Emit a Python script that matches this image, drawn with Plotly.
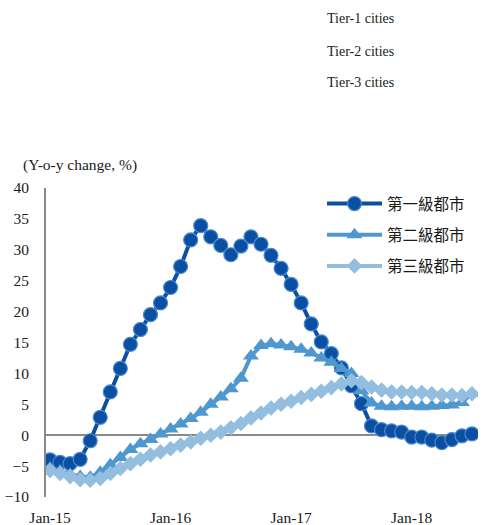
import plotly.graph_objects as go

# Monthly y-o-y change in new home prices, Jan-15 .. Jul-18
months = list(range(43))
tick_positions = [0, 12, 24, 36]
tick_labels = ["Jan-15", "Jan-16", "Jan-17", "Jan-18"]

tier1 = [-4.0, -4.4, -4.6, -3.9, -0.9, 2.9, 7.0, 10.8, 14.7, 17.1, 19.5, 21.4,
         23.9, 27.3, 31.6, 33.9, 32.1, 30.7, 29.2, 30.6, 32.1, 30.9, 29.1, 27.0,
         24.4, 21.4, 18.0, 15.1, 13.2, 10.9, 8.0, 5.1, 1.5, 0.9, 0.7, 0.5,
         -0.3, -0.3, -0.8, -1.2, -0.7, -0.1, 0.2]
tier2 = [-5.3, -5.8, -6.3, -6.7, -6.8, -6.0, -4.8, -3.6, -2.3, -1.4, -0.7, 0.2,
         1.0, 1.8, 2.7, 3.7, 5.0, 6.2, 7.5, 9.2, 12.8, 14.5, 14.8, 14.6,
         14.3, 13.9, 13.3, 12.5, 11.8, 10.8, 10.0, 7.2, 5.2, 4.7, 4.6, 4.7,
         4.7, 4.6, 4.7, 4.8, 4.9, 5.3, 6.8]
tier3 = [-5.7, -6.2, -6.7, -7.2, -7.3, -7.0, -6.2, -5.4, -4.6, -3.9, -3.2, -2.7,
         -2.2, -1.6, -1.1, -0.5, 0.0, 0.5, 1.2, 1.9, 2.8, 3.6, 4.4, 5.0,
         5.5, 6.1, 6.6, 7.1, 7.7, 8.3, 8.8, 8.5, 7.8, 7.3, 7.0, 7.0,
         6.9, 6.9, 6.7, 6.5, 6.5, 6.4, 6.7]

names = ["第一級都市", "第二級都市", "第三級都市"]
english_names = ["Tier-1 cities", "Tier-2 cities", "Tier-3 cities"]

SERIF = "Liberation Serif, Times New Roman, serif"
CJK = "Noto Sans CJK TC, Noto Sans CJK JP, sans-serif"
AXIS_GREY = "#8a8a8a"

fig = go.Figure()

fig.add_trace(go.Scatter(
    x=months, y=tier1, name=names[0], mode="lines+markers", legendgroup="t1",
    line=dict(color="#0b4fa2", width=4),
    marker=dict(symbol="circle", size=14, color="#0b4fa2",
                line=dict(color="#4a89d2", width=1.2)),
))
fig.add_trace(go.Scatter(
    x=months, y=tier2, name=names[1], mode="lines+markers", legendgroup="t2",
    line=dict(color="#4f97cf", width=4),
    marker=dict(symbol="triangle-up", size=14, color="#4f97cf",
                line=dict(color="#4f97cf", width=0)),
))
fig.add_trace(go.Scatter(
    x=months, y=tier3, name=names[2], mode="lines+markers", legendgroup="t3",
    line=dict(color="#93bedf", width=4),
    marker=dict(symbol="diamond", size=12, color="#93bedf",
                line=dict(color="#93bedf", width=0)),
))

annotations = []
for k, label in enumerate(english_names):
    annotations.append(dict(
        text=label, xref="paper", yref="paper", x=(325 - 46) / 432,
        y=(497 - (19 + 32 * k)) / 309, xanchor="left", yanchor="middle",
        showarrow=False, font=dict(family=SERIF, size=14, color="#1a1a1a"),
    ))
annotations.append(dict(
    text="(Y-o-y change, %)", xref="paper", yref="paper", x=(21 - 46) / 432,
    y=(497 - 165) / 309, xanchor="left", yanchor="middle", showarrow=False,
    font=dict(family=SERIF, size=15.5, color="#1a1a1a"),
))

fig.update_layout(
    width=483, height=525,
    margin=dict(l=46, r=5, t=188, b=28),
    paper_bgcolor="white", plot_bgcolor="white",
    showlegend=True,
    legend=dict(
        x=(322 - 46) / 432, y=(497 - 187) / 309, xanchor="left", yanchor="top",
        font=dict(family=CJK, size=15.5, color="#1a1a1a"),
        bgcolor="rgba(0,0,0,0)", itemwidth=55, tracegroupgap=8,
        traceorder="grouped",
    ),
    annotations=annotations,
)

fig.update_xaxes(
    range=[-0.4, 42.6], tickmode="array", tickvals=tick_positions,
    ticktext=tick_labels, showgrid=False, zeroline=False, showline=False,
    ticks="outside", ticklen=6, tickcolor="rgba(0,0,0,0)", automargin=False,
    tickfont=dict(family=SERIF, size=15.5, color="#1a1a1a"),
)
fig.update_yaxes(
    range=[-10, 40], dtick=5, showgrid=False, automargin=False,
    zeroline=True, zerolinecolor=AXIS_GREY, zerolinewidth=2,
    showline=True, linecolor=AXIS_GREY, linewidth=2,
    ticks="", ticklabelstandoff=12,
    tickfont=dict(family=SERIF, size=15.5, color="#1a1a1a"),
)

fig.write_html("out.html")
